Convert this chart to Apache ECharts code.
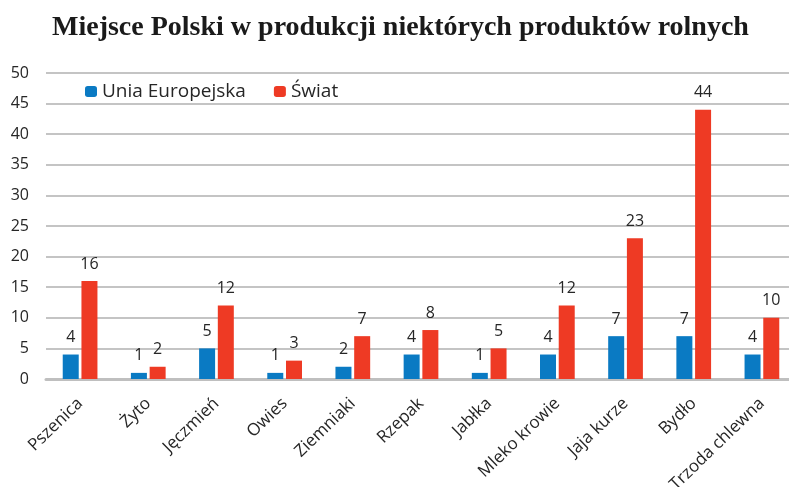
<!DOCTYPE html>
<html>
<head>
<meta charset="utf-8">
<script src="https://cdn.jsdelivr.net/npm/echarts@6/dist/echarts.min.js"></script>
<style>
  html, body { margin: 0; padding: 0; background: #fff; }
  #chart { width: 789px; height: 487px; }
</style>
</head>
<body>
<div id="chart"></div>
<script>
  // dane
  var categories = ['Pszenica', 'Żyto', 'Jęczmień', 'Owies', 'Ziemniaki', 'Rzepak', 'Jabłka', 'Mleko krowie', 'Jaja kurze', 'Bydło', 'Trzoda chlewna']
  var euValues = [4, 1, 5, 1, 2, 4, 1, 4, 7, 7, 4]
  var worldValues = [16, 2, 12, 3, 7, 8, 5, 12, 23, 44, 10]
  var yTicks = [0, 5, 10, 15, 20, 25, 30, 35, 40, 45, 50]

  var chart = echarts.init(document.getElementById('chart'))

  var labelStyle = {
    show: true,
    position: 'top',
    distance: 9,
    color: '#262626',
    fontFamily: 'Open Sans',
    fontSize: 16
  }

  chart.setOption({
    animation: false,
    title: {
      text: 'Miejsce Polski w produkcji niektórych produktów rolnych',
      left: 47,
      top: 9,
      textStyle: {
        fontFamily: 'Liberation Serif',
        fontWeight: 'bold',
        fontSize: 28,
        color: '#1a1a1a'
      }
    },
    legend: {
      left: 80,
      top: 77,
      itemWidth: 12,
      itemHeight: 11,
      itemGap: 28,
      textStyle: {
        fontFamily: 'Open Sans',
        fontSize: 19,
        color: '#262626'
      },
      data: ['Unia Europejska', 'Świat']
    },
    grid: {
      left: 46,
      right: -7,
      top: 73,
      bottom: 108,
      outerBoundsMode: 'none'
    },
    xAxis: {
      type: 'category',
      data: categories,
      axisLine: { lineStyle: { color: '#bfbfbf', width: 3 } },
      axisTick: { show: false },
      axisLabel: {
        rotate: 44,
        interval: 0,
        margin: 22,
        color: '#262626',
        fontFamily: 'Open Sans',
        fontSize: 17
      }
    },
    yAxis: {
      type: 'value',
      min: yTicks[0],
      max: yTicks[yTicks.length - 1],
      interval: 5,
      axisLine: { show: false },
      axisTick: { show: false },
      axisLabel: {
        margin: 17,
        color: '#262626',
        fontFamily: 'Open Sans',
        fontSize: 16
      },
      splitLine: { lineStyle: { color: '#c4c4c4', width: 2 } }
    },
    series: [
      {
        name: 'Unia Europejska',
        type: 'bar',
        data: euValues,
        barWidth: 16,
        barGap: '17%',
        itemStyle: { color: '#0a7ac3' },
        label: labelStyle
      },
      {
        name: 'Świat',
        type: 'bar',
        data: worldValues,
        barWidth: 16,
        barGap: '17%',
        itemStyle: { color: '#ee3a24' },
        label: labelStyle
      }
    ]
  })
</script>
</body>
</html>
